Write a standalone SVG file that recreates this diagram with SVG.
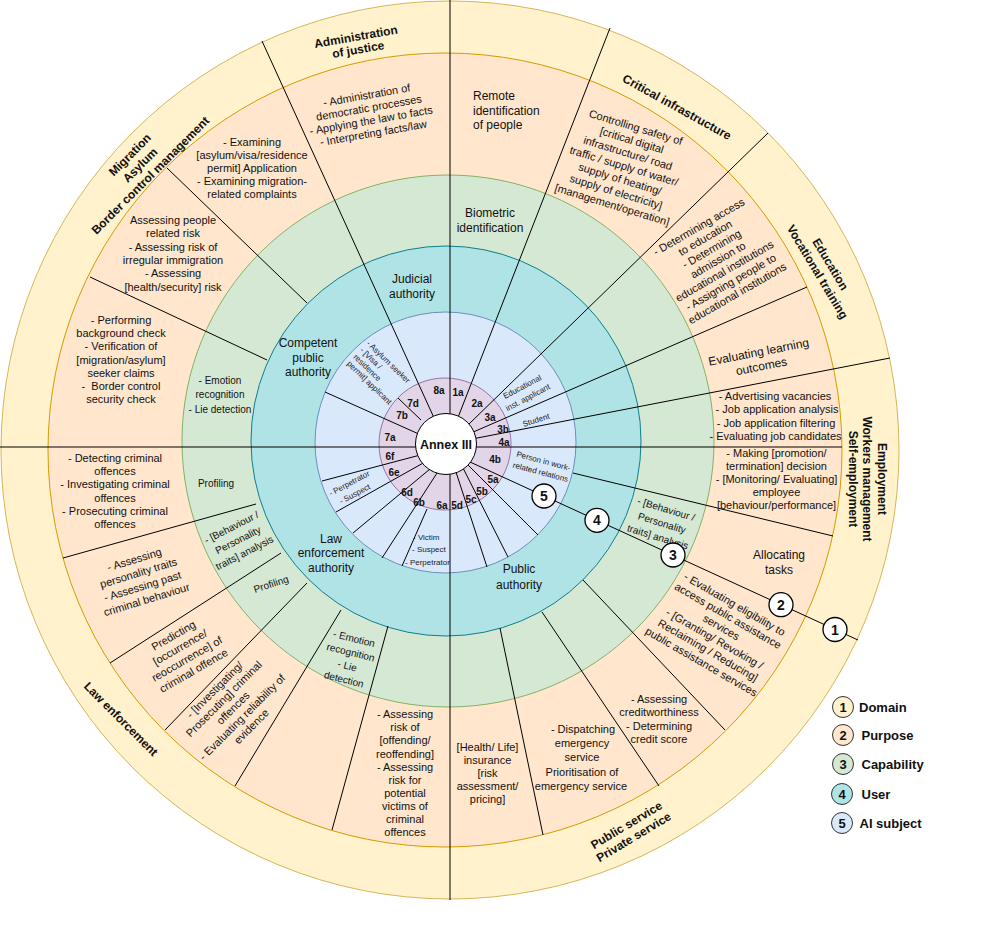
<svg xmlns="http://www.w3.org/2000/svg" width="981" height="941" viewBox="0 0 981 941">
<style>
text { font-family: "Liberation Sans", Arial, Helvetica, sans-serif; fill:#111; }
.p { font-size:11px; text-anchor:middle; }
.pl { font-size:12px; text-anchor:start; }
.p12 { font-size:12px; text-anchor:middle; }
.c { font-size:10px; text-anchor:middle; }
.s { font-size:8px; text-anchor:middle; fill:#222; }
.sl { font-size:8px; text-anchor:start; fill:#222; }
.d { font-size:12px; font-weight:bold; text-anchor:middle; }
.k { font-size:10px; font-weight:bold; text-anchor:middle; }
.n { font-size:14px; font-weight:bold; text-anchor:middle; }
.ln { font-size:13px; font-weight:bold; text-anchor:middle; }
.lg { font-size:13px; font-weight:bold; text-anchor:start; }
.sep { stroke:#000; stroke-width:1; fill:none; }
.badge { fill:#fff; stroke:#000; stroke-width:1.3; }
.lgc { stroke:#333; stroke-width:1; }
</style>

<g id="rings">
  <circle id="ring-domain" cx="450" cy="450" r="449" fill="#fff2cc" stroke="#d6b656" stroke-width="1"/>
  <circle id="ring-purpose" cx="445" cy="450" r="397" fill="#ffe6cc" stroke="#d79b00" stroke-width="1"/>
  <circle id="ring-capability" cx="448" cy="441" r="266" fill="#d5e8d4" stroke="#82b366" stroke-width="1"/>
  <circle id="ring-user" cx="446" cy="441" r="195" fill="#b0e3e6" stroke="#0e8088" stroke-width="1"/>
  <circle id="ring-subject" cx="445.5" cy="442.5" r="130.5" fill="#dae8fc" stroke="#6c8ebf" stroke-width="1"/>
  <circle id="ring-annex" cx="445" cy="444" r="66" fill="#e1d5e7" stroke="#9673a6" stroke-width="1"/>
</g>

<g id="connectors" class="sep">
  <path d="M450 0 V420"/>
  <path d="M450 470 V900"/>
  <path d="M0 447 H420"/>
  <path d="M472 447 H842"/>
  <path d="M262 41 L435 420"/>
  <path d="M610 28 L457 420"/>
  <path d="M768 133 L468 425"/>
  <path d="M807 287 L471 433"/>
  <path d="M890 358 L472 439"/>
  <path d="M573 473 L833 536"/>
  <path d="M467 460.6 L858 640"/>
  <path d="M465 462 L538 535"/>
  <path d="M461 464 L508 557"/>
  <path d="M455 469 L487 567"/>
  <path d="M439 470 L382 558"/>
  <path d="M430 469 L353 533"/>
  <path d="M425 462 L336 512"/>
  <path d="M424 454 L322 481"/>
  <path d="M427 509 L402 566"/>
  <path d="M325 392 L421 435"/>
  <path d="M398 398 L421 420"/>
  <path d="M90 277 L267 360"/>
  <path d="M167 168 L307 303"/>
  <path d="M63 558 L256 504"/>
  <path d="M110 663 L281 553"/>
  <path d="M165 730 L307 583"/>
  <path d="M235 786 L341 610"/>
  <path d="M332 830 L388 626"/>
  <path d="M543 835 L500 628"/>
  <path d="M659 786 L542 612"/>
  <path d="M725 730 L583 580"/>
</g>

<g id="annex">
  <circle cx="446" cy="444" r="30.5" fill="#fff" stroke="#000" stroke-width="1"/>
  <text x="446" y="448.5" style="font-size:12.5px;font-weight:bold;text-anchor:middle">Annex III</text>
</g>

<g id="annex-items">
  <text class="k" x="439" y="393.5">8a</text>
  <text class="k" x="458" y="395.5">1a</text>
  <text class="k" x="477" y="406.5">2a</text>
  <text class="k" x="490" y="420.5">3a</text>
  <text class="k" x="503" y="432.5">3b</text>
  <text class="k" x="504" y="445.5">4a</text>
  <text class="k" x="495" y="462.5">4b</text>
  <text class="k" x="493" y="482.5">5a</text>
  <text class="k" x="482" y="494.5">5b</text>
  <text class="k" x="471" y="502.5">5c</text>
  <text class="k" x="457" y="508.5">5d</text>
  <text class="k" x="442" y="508.5">6a</text>
  <text class="k" x="419" y="505.5">6b</text>
  <text class="k" x="407" y="495.5">6d</text>
  <text class="k" x="394" y="475.5">6e</text>
  <text class="k" x="390" y="459.5">6f</text>
  <text class="k" x="390" y="440.5">7a</text>
  <text class="k" x="402" y="418.5">7b</text>
  <text class="k" x="413" y="406.5">7d</text>
</g>

<g id="domains">
  <g id="dom-justice" transform="translate(357,43) rotate(-10)"><text class="d"><tspan x="0" y="-2.3">Administration</tspan><tspan x="0" y="10.7">of justice</tspan></text></g>
  <g id="dom-migration" transform="translate(140,165) rotate(-45)"><text class="d"><tspan x="0" y="-10.3">Migration</tspan><tspan x="0" y="4.2">Asylum</tspan><tspan x="0" y="18.7">Border control management</tspan></text></g>
  <g id="dom-critical" transform="translate(677,107) rotate(29)"><text class="d" x="0" y="4.2">Critical infrastructure</text></g>
  <g id="dom-education" transform="translate(824,268) rotate(59)"><text class="d"><tspan x="0" y="-3.3">Education</tspan><tspan x="0" y="11.7">Vocational training</tspan></text></g>
  <g id="dom-employment" transform="translate(867.5,479) rotate(90)"><text class="d"><tspan x="0" y="-10.1">Employment</tspan><tspan x="0" y="4.2">Workers management</tspan><tspan x="0" y="18.5">Self-employment</tspan></text></g>
  <g id="dom-public" transform="translate(630,831) rotate(-31)"><text class="d"><tspan x="0" y="-2.8">Public service</tspan><tspan x="0" y="11.2">Private service</tspan></text></g>
  <g id="dom-law" transform="translate(121,719) rotate(45)"><text class="d" x="0" y="4.2">Law enforcement</text></g>
</g>

<g id="purposes">
  <g id="pur-justice" transform="translate(370,114) rotate(-10)"><text class="p"><tspan x="0" y="-15.35">- Administration of</tspan><tspan x="0" y="-2.55">democratic processes</tspan><tspan x="0" y="10.25">- Applying the law to facts</tspan><tspan x="0" y="23.05">- Interpreting facts/law</tspan></text></g>
  <g id="pur-remote"><text class="pl"><tspan x="473" y="100.2">Remote</tspan><tspan x="473" y="114.7">identification</tspan><tspan x="473" y="129.2">of people</tspan></text></g>
  <g id="pur-critical" transform="translate(624,166) rotate(17)"><text class="p"><tspan x="0" y="-36.65">Controlling safety of</tspan><tspan x="0" y="-23.15">[critical digital</tspan><tspan x="0" y="-9.65">infrastructure/ road</tspan><tspan x="0" y="3.85">traffic / supply of water/</tspan><tspan x="0" y="17.35">supply of heating/</tspan><tspan x="0" y="30.85">supply of electricity]</tspan><tspan x="0" y="44.35">[management/operation]</tspan></text></g>
  <g id="pur-access" transform="translate(718,260) rotate(-30)"><text class="p"><tspan x="0" y="-34.55">- Determining access</tspan><tspan x="0" y="-21.75">to education</tspan><tspan x="0" y="-8.95">- Determining</tspan><tspan x="0" y="3.85">admission to</tspan><tspan x="0" y="16.65">educational institutions</tspan><tspan x="0" y="29.45">- Assigning people to</tspan><tspan x="0" y="42.25">educational institutions</tspan></text></g>
  <g id="pur-learning" transform="translate(760,359) rotate(-11)"><text class="p12"><tspan x="0" y="-3.05">Evaluating learning</tspan><tspan x="0" y="11.45">outcomes</tspan></text></g>
  <g id="pur-recruit"><text class="p"><tspan x="775" y="400">- Advertising vacancies</tspan><tspan x="777" y="413.3">- Job application analysis</tspan><tspan x="776" y="426.6">- Job application filtering</tspan><tspan x="775.5" y="440">- Evaluating job candidates</tspan></text></g>
  <g id="pur-decision"><text class="p"><tspan x="776.5" y="457">- Making [promotion/</tspan><tspan x="776.5" y="470">termination] decision</tspan><tspan x="776.5" y="483">- [Monitoring/ Evaluating]</tspan><tspan x="776.5" y="496">employee</tspan><tspan x="776.5" y="509">[behaviour/performance]</tspan></text></g>
  <g id="pur-tasks"><text class="p12"><tspan x="779" y="559.2">Allocating</tspan><tspan x="779" y="573.5">tasks</tspan></text></g>
  <g id="pur-eligibility" transform="translate(718,633) rotate(30)"><text class="p"><tspan x="0" y="-29.4">- Evaluating eligibility to</tspan><tspan x="0" y="-16.1">access public assistance</tspan><tspan x="0" y="-2.8">services</tspan><tspan x="0" y="10.5">- [Granting/ Revoking /</tspan><tspan x="0" y="23.8">Reclaiming / Reducing]</tspan><tspan x="0" y="37.1">public assistance services</tspan></text></g>
  <g id="pur-credit"><text class="p"><tspan x="659" y="703">- Assessing</tspan><tspan x="659" y="716.3">creditworthiness</tspan><tspan x="659" y="729.6">- Determining</tspan><tspan x="659" y="742.9">credit score</tspan></text></g>
  <g id="pur-emergency"><text class="p"><tspan x="583" y="733">- Dispatching</tspan><tspan x="582" y="747">emergency</tspan><tspan x="582" y="761">service</tspan><tspan x="582" y="775.5">Prioritisation of</tspan><tspan x="581" y="789.5">emergency service</tspan></text></g>
  <g id="pur-insurance"><text class="p"><tspan x="487.5" y="751">[Health/ Life]</tspan><tspan x="487.5" y="764">insurance</tspan><tspan x="487.5" y="777">[risk</tspan><tspan x="487.5" y="790">assessment/</tspan><tspan x="487.5" y="803">pricing]</tspan></text></g>
  <g id="pur-offending"><text class="p"><tspan x="405" y="718.2">- Assessing</tspan><tspan x="405" y="731.3">risk of</tspan><tspan x="405" y="744.4">[offending/</tspan><tspan x="405" y="757.5">reoffending]</tspan><tspan x="405" y="770.6">- Assessing</tspan><tspan x="405" y="783.7">risk for</tspan><tspan x="405" y="796.8">potential</tspan><tspan x="405" y="809.9">victims of</tspan><tspan x="405" y="823">criminal</tspan><tspan x="405" y="836.1">offences</tspan></text></g>
  <g id="pur-evidence" transform="translate(233,708) rotate(-45)"><text class="p"><tspan x="0" y="-22.15">- [Investigating/</tspan><tspan x="0" y="-9.15">Prosecuting] criminal</tspan><tspan x="0" y="3.85">offences</tspan><tspan x="0" y="16.85">- Evaluating reliability of</tspan><tspan x="0" y="29.85">evidence</tspan></text></g>
  <g id="pur-predicting" transform="translate(183.5,653) rotate(-30)"><text class="p"><tspan x="0" y="-16.4">Predicting</tspan><tspan x="0" y="-2.9">[occurrence/</tspan><tspan x="0" y="10.6">reoccurrence] of</tspan><tspan x="0" y="24.1">criminal offence</tspan></text></g>
  <g id="pur-personality" transform="translate(140.5,579.5) rotate(-17)"><text class="p"><tspan x="0" y="-17.15">- Assessing</tspan><tspan x="0" y="-3.15">personality traits</tspan><tspan x="0" y="10.85">- Assessing past</tspan><tspan x="0" y="24.85">criminal behaviour</tspan></text></g>
  <g id="pur-detecting"><text class="p"><tspan x="115" y="462">- Detecting criminal</tspan><tspan x="115" y="475.2">offences</tspan><tspan x="115" y="488.4">- Investigating criminal</tspan><tspan x="115" y="501.6">offences</tspan><tspan x="115" y="514.8">- Prosecuting criminal</tspan><tspan x="115" y="528">offences</tspan></text></g>
  <g id="pur-background"><text class="p" xml:space="preserve"><tspan x="121" y="324">- Performing</tspan><tspan x="121" y="337.2">background check</tspan><tspan x="121" y="350.4">- Verification of</tspan><tspan x="121" y="363.6">[migration/asylum]</tspan><tspan x="121" y="376.8">seeker claims</tspan><tspan x="121" y="390">-  Border control</tspan><tspan x="121" y="403.2">security check</tspan></text></g>
  <g id="pur-risk"><text class="p"><tspan x="173" y="224">Assessing people</tspan><tspan x="173" y="237.3">related risk</tspan><tspan x="173" y="250.6">- Assessing risk of</tspan><tspan x="173" y="263.9">irregular immigration</tspan><tspan x="173" y="277.2">- Assessing</tspan><tspan x="173" y="290.5">[health/security] risk</tspan></text></g>
  <g id="pur-examining"><text class="p"><tspan x="252" y="146">- Examining</tspan><tspan x="252" y="159">[asylum/visa/residence</tspan><tspan x="252" y="172">permit] Application</tspan><tspan x="252" y="185">- Examining migration-</tspan><tspan x="252" y="198">related complaints</tspan></text></g>
</g>

<g id="capabilities">
  <g id="cap-biometric"><text class="p12"><tspan x="490" y="217">Biometric</tspan><tspan x="490" y="232">identification</tspan></text></g>
  <g id="cap-emotion-left"><text class="c"><tspan x="220" y="383.5">- Emotion</tspan><tspan x="220" y="397.5">recognition</tspan><tspan x="220" y="412.5">- Lie detection</tspan></text></g>
  <g id="cap-profiling-1"><text class="c" x="216" y="486.5">Profiling</text></g>
  <g id="cap-behaviour-left" transform="translate(238,540) rotate(-27)"><text class="c"><tspan x="0" y="-10.8">- [Behaviour /</tspan><tspan x="0" y="3.5">Personality</tspan><tspan x="0" y="17.8">traits] analysis</tspan></text></g>
  <g id="cap-profiling-2" transform="translate(271,584) rotate(-18)"><text class="c" x="0" y="3.5">Profiling</text></g>
  <g id="cap-emotion-low" transform="translate(349,659) rotate(14)"><text class="c"><tspan x="0" y="-17.5">- Emotion</tspan><tspan x="0" y="-3.5">recognition</tspan><tspan x="0" y="10.5">- Lie</tspan><tspan x="0" y="24.5">detection</tspan></text></g>
  <g id="cap-behaviour-right" transform="translate(662,523) rotate(17)"><text class="c"><tspan x="0" y="-11">- [Behaviour /</tspan><tspan x="0" y="3.5">Personality</tspan><tspan x="0" y="18">traits] analysis</tspan></text></g>
</g>

<g id="users">
  <g id="user-judicial"><text class="p12"><tspan x="412" y="282.5">Judicial</tspan><tspan x="412" y="297.5">authority</tspan></text></g>
  <g id="user-competent"><text class="p12"><tspan x="308" y="347">Competent</tspan><tspan x="308" y="361.5">public</tspan><tspan x="308" y="376">authority</tspan></text></g>
  <g id="user-law"><text class="p12"><tspan x="331" y="542.5">Law</tspan><tspan x="331" y="557">enforcement</tspan><tspan x="331" y="571.5">authority</tspan></text></g>
  <g id="user-public"><text class="p12"><tspan x="519" y="573">Public</tspan><tspan x="519" y="589">authority</tspan></text></g>
</g>

<g id="subjects">
  <g id="sub-asylum" transform="translate(366,344) rotate(44)"><text class="sl"><tspan x="0" y="0">- Asylum seeker</tspan><tspan x="0" y="9.4">- [Visa /</tspan><tspan x="0" y="18.8">residence</tspan><tspan x="0" y="28.2">permit] applicant</tspan></text></g>
  <g id="sub-educational" transform="translate(525,392) rotate(-28)"><text class="s"><tspan x="0" y="-3.2">Educational</tspan><tspan x="0" y="8.8">inst. applicant</tspan></text></g>
  <g id="sub-student" transform="translate(536,420) rotate(-18)"><text class="s" x="0" y="2.8">Student</text></g>
  <g id="sub-work" transform="translate(542,466.5) rotate(15)"><text class="s"><tspan x="0" y="-2.95">Person in work-</tspan><tspan x="0" y="8.55">related relations</tspan></text></g>
  <g id="sub-perpetrator" transform="translate(352,488.5) rotate(-28)"><text class="s"><tspan x="0" y="-3.2">- Perpetrator</tspan><tspan x="0" y="8.8">- Suspect</tspan></text></g>
  <g id="sub-victim"><text class="sl"><tspan x="413" y="539.5">- Victim</tspan><tspan x="412" y="552">- Suspect</tspan><tspan x="405" y="565">- Perpetrator</tspan></text></g>
</g>

<g id="layer-markers">
  <g id="mk5"><circle class="badge" cx="544" cy="496" r="12"/><text class="n" x="544" y="501">5</text></g>
  <g id="mk4"><circle class="badge" cx="597" cy="520.3" r="12"/><text class="n" x="597" y="525.3">4</text></g>
  <g id="mk3"><circle class="badge" cx="673" cy="555" r="12"/><text class="n" x="673" y="560">3</text></g>
  <g id="mk2"><circle class="badge" cx="781" cy="604.7" r="12"/><text class="n" x="781" y="609.7">2</text></g>
  <g id="mk1"><circle class="badge" cx="835" cy="629.5" r="12"/><text class="n" x="835" y="634.5">1</text></g>
</g>

<g id="legend">
  <g id="lg1"><circle class="lgc" cx="843" cy="707" r="10.5" fill="#fff2cc"/><text class="ln" x="843" y="711.5">1</text><text class="lg" x="859" y="711.5">Domain</text></g>
  <g id="lg2"><circle class="lgc" cx="843" cy="735" r="10.5" fill="#ffe6cc"/><text class="ln" x="843" y="739.5">2</text><text class="lg" x="861.5" y="739.5">Purpose</text></g>
  <g id="lg3"><circle class="lgc" cx="843" cy="764" r="10.5" fill="#d5e8d4"/><text class="ln" x="843" y="768.5">3</text><text class="lg" x="861.5" y="768.5">Capability</text></g>
  <g id="lg4"><circle class="lgc" cx="842" cy="794" r="10.5" fill="#b0e3e6"/><text class="ln" x="842" y="798.5">4</text><text class="lg" x="861.5" y="798.5">User</text></g>
  <g id="lg5"><circle class="lgc" cx="842" cy="823" r="10.5" fill="#dae8fc"/><text class="ln" x="842" y="827.5">5</text><text class="lg" x="859.5" y="827.5">AI subject</text></g>
</g>
</svg>
